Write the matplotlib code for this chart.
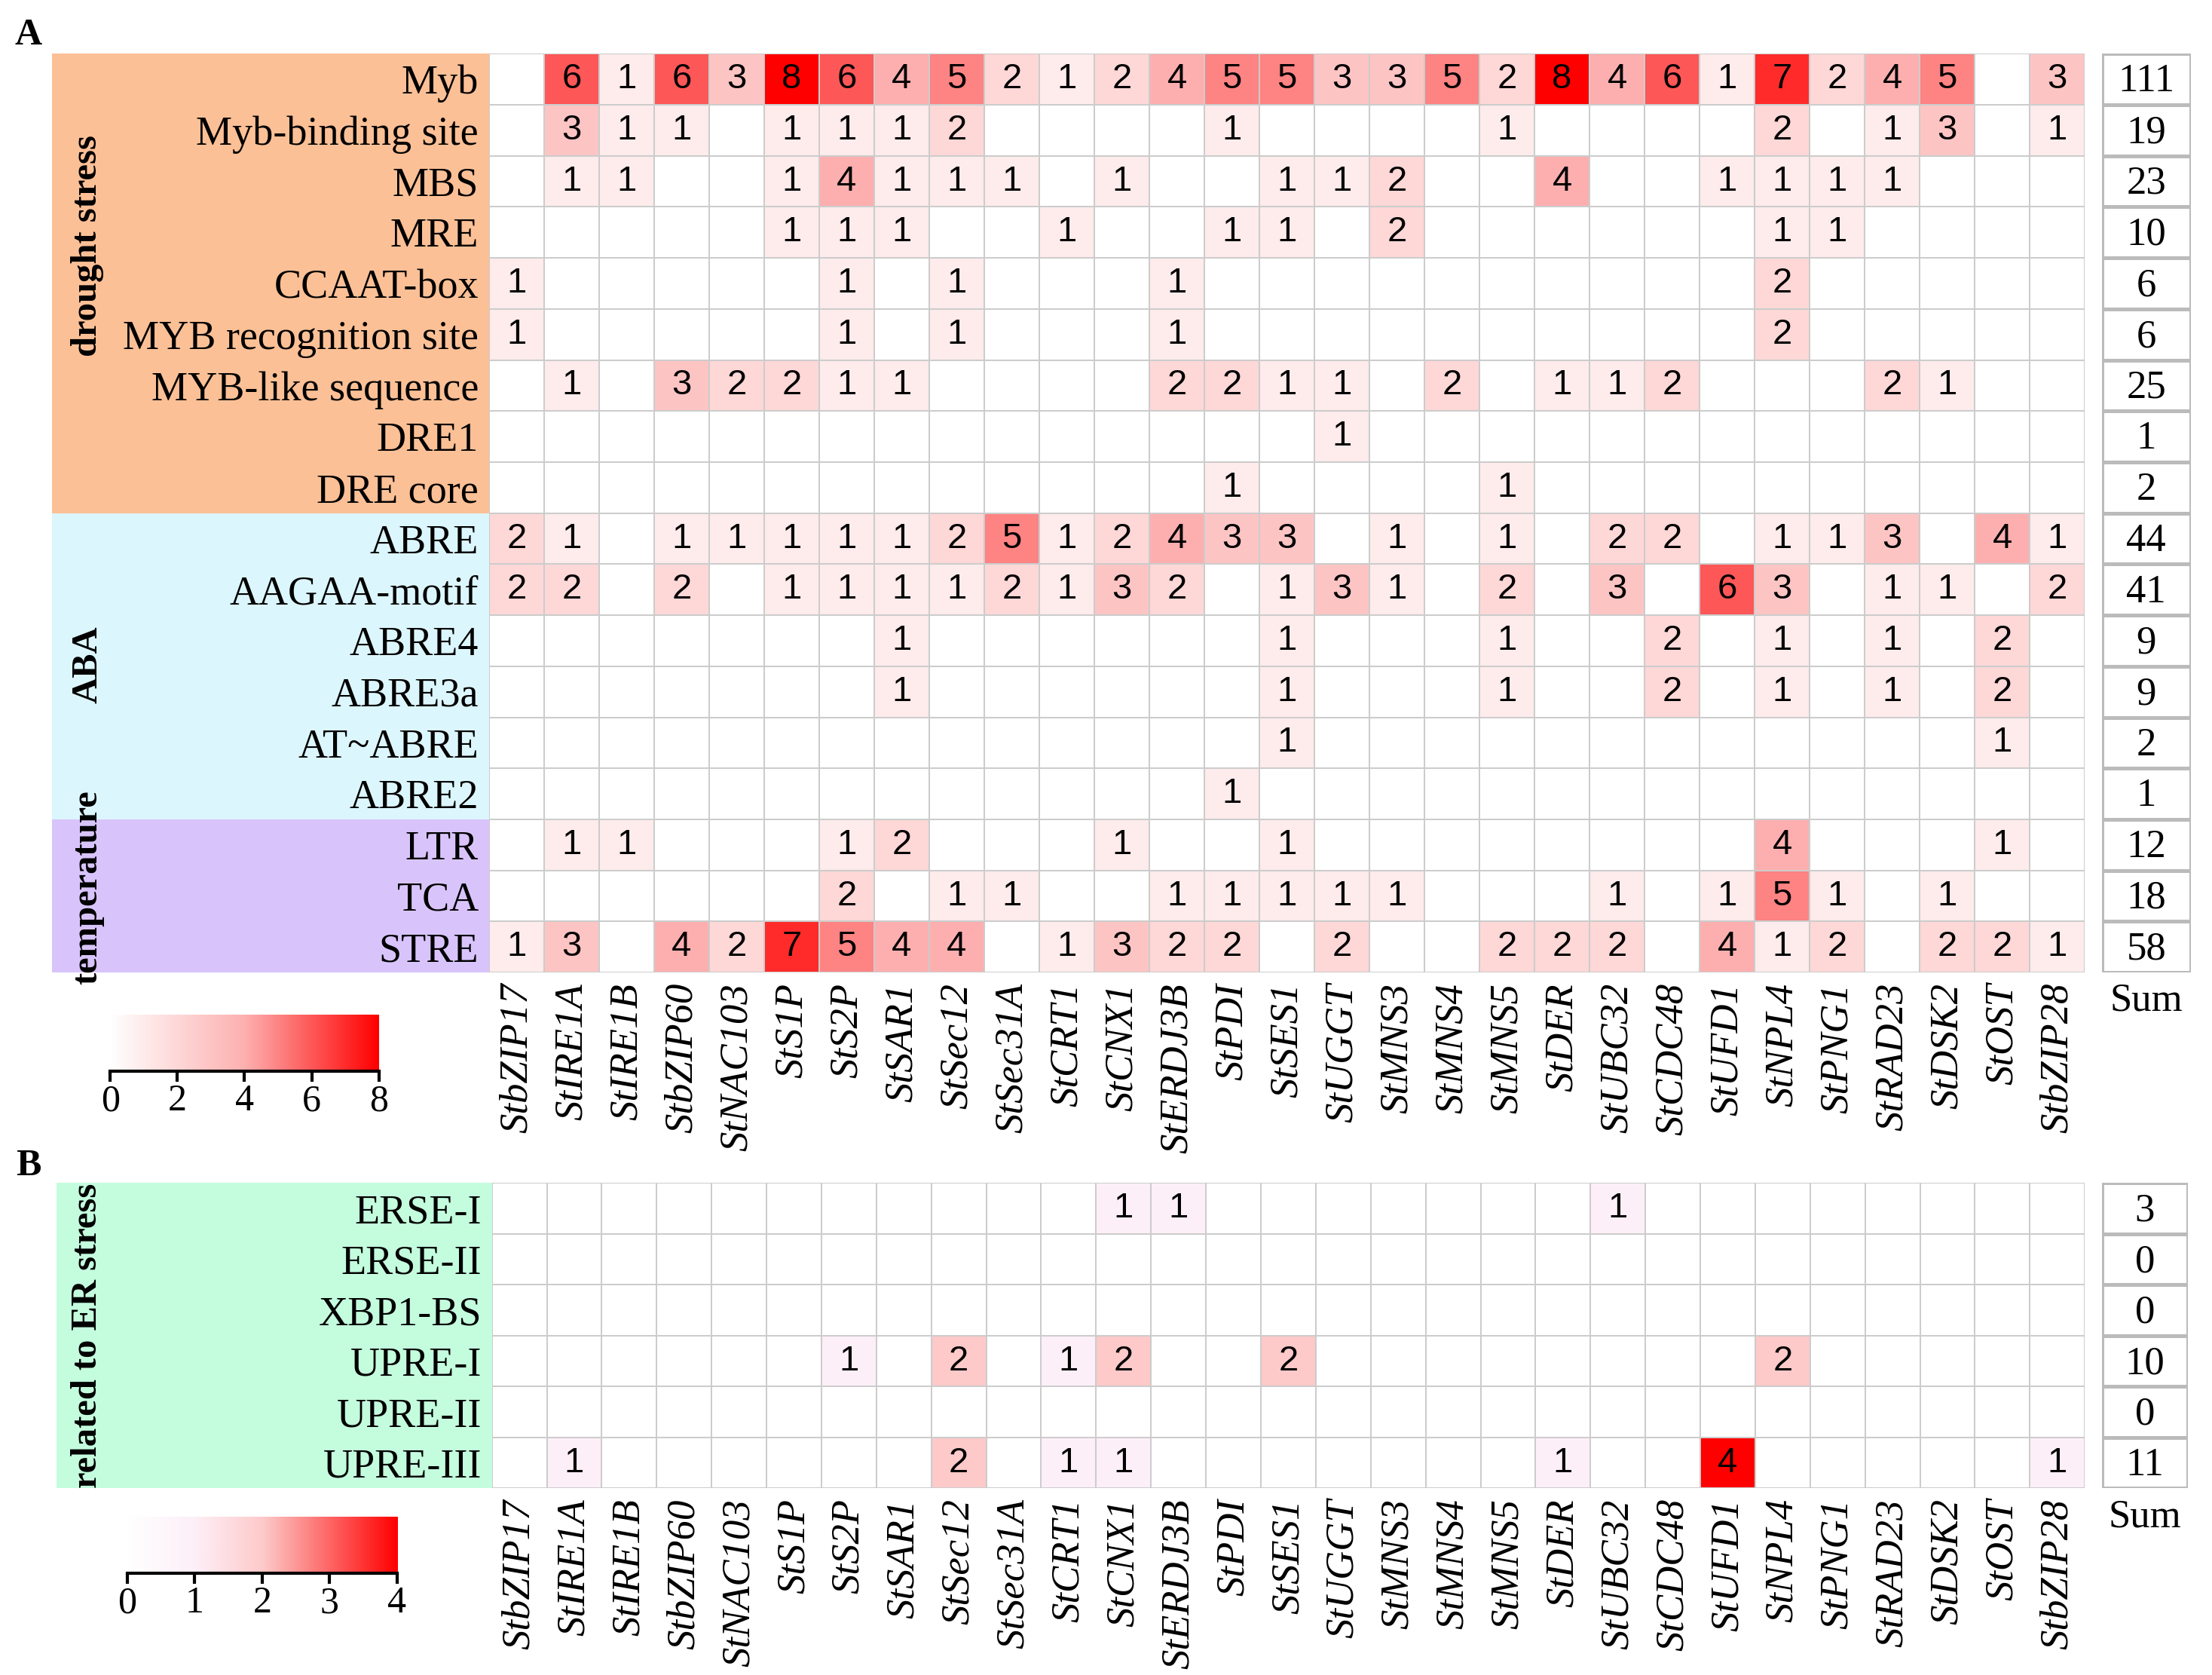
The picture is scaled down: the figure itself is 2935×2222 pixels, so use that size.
import numpy as np
import matplotlib
matplotlib.use("Agg")
import matplotlib.pyplot as plt
from matplotlib.colors import LinearSegmentedColormap
from matplotlib.patches import Rectangle
from matplotlib import transforms

genes = ['StbZIP17', 'StIRE1A', 'StIRE1B', 'StbZIP60', 'StNAC103', 'StS1P', 'StS2P',
         'StSAR1', 'StSec12', 'StSec31A', 'StCRT1', 'StCNX1', 'StERDJ3B', 'StPDI',
         'StSES1', 'StUGGT', 'StMNS3', 'StMNS4', 'StMNS5', 'StDER', 'StUBC32',
         'StCDC48', 'StUFD1', 'StNPL4', 'StPNG1', 'StRAD23', 'StDSK2', 'StOST', 'StbZIP28']

# panel A
rows_a = ['Myb', 'Myb-binding site', 'MBS', 'MRE', 'CCAAT-box', 'MYB recognition site',
          'MYB-like sequence', 'DRE1', 'DRE core', 'ABRE', 'AAGAA-motif', 'ABRE4',
          'ABRE3a', 'AT~ABRE', 'ABRE2', 'LTR', 'TCA', 'STRE']
myb      = [0,6,1,6,3,8,6,4,5,2,1,2,4,5,5,3,3,5,2,8,4,6,1,7,2,4,5,0,3]
myb_bs   = [0,3,1,1,0,1,1,1,2,0,0,0,0,1,0,0,0,0,1,0,0,0,0,2,0,1,3,0,1]
mbs      = [0,1,1,0,0,1,4,1,1,1,0,1,0,0,1,1,2,0,0,4,0,0,1,1,1,1,0,0,0]
mre      = [0,0,0,0,0,1,1,1,0,0,1,0,0,1,1,0,2,0,0,0,0,0,0,1,1,0,0,0,0]
ccaat    = [1,0,0,0,0,0,1,0,1,0,0,0,1,0,0,0,0,0,0,0,0,0,0,2,0,0,0,0,0]
myb_rec  = [1,0,0,0,0,0,1,0,1,0,0,0,1,0,0,0,0,0,0,0,0,0,0,2,0,0,0,0,0]
myb_like = [0,1,0,3,2,2,1,1,0,0,0,0,2,2,1,1,0,2,0,1,1,2,0,0,0,2,1,0,0]
dre1     = [0,0,0,0,0,0,0,0,0,0,0,0,0,0,0,1,0,0,0,0,0,0,0,0,0,0,0,0,0]
dre_core = [0,0,0,0,0,0,0,0,0,0,0,0,0,1,0,0,0,0,1,0,0,0,0,0,0,0,0,0,0]
abre     = [2,1,0,1,1,1,1,1,2,5,1,2,4,3,3,0,1,0,1,0,2,2,0,1,1,3,0,4,1]
aagaa    = [2,2,0,2,0,1,1,1,1,2,1,3,2,0,1,3,1,0,2,0,3,0,6,3,0,1,1,0,2]
abre4    = [0,0,0,0,0,0,0,1,0,0,0,0,0,0,1,0,0,0,1,0,0,2,0,1,0,1,0,2,0]
abre3a   = [0,0,0,0,0,0,0,1,0,0,0,0,0,0,1,0,0,0,1,0,0,2,0,1,0,1,0,2,0]
at_abre  = [0,0,0,0,0,0,0,0,0,0,0,0,0,0,1,0,0,0,0,0,0,0,0,0,0,0,0,1,0]
abre2    = [0,0,0,0,0,0,0,0,0,0,0,0,0,1,0,0,0,0,0,0,0,0,0,0,0,0,0,0,0]
ltr      = [0,1,1,0,0,0,1,2,0,0,0,1,0,0,1,0,0,0,0,0,0,0,0,4,0,0,0,1,0]
tca      = [0,0,0,0,0,0,2,0,1,1,0,0,1,1,1,1,1,0,0,0,1,0,1,5,1,0,1,0,0]
stre     = [1,3,0,4,2,7,5,4,4,0,1,3,2,2,0,2,0,0,2,2,2,0,4,1,2,0,2,2,1]
groups_a = [('drought stress', 0, 9, '#fcc096'), ('ABA', 9, 6, '#dcf6fd'),
            ('temperature', 15, 3, '#d8c4fa')]

# panel B
rows_b = ['ERSE-I', 'ERSE-II', 'XBP1-BS', 'UPRE-I', 'UPRE-II', 'UPRE-III']
erse1   = [0,0,0,0,0,0,0,0,0,0,0,1,1,0,0,0,0,0,0,0,1,0,0,0,0,0,0,0,0]
erse2   = [0]*29
xbp1    = [0]*29
upre1   = [0,0,0,0,0,0,1,0,2,0,1,2,0,0,2,0,0,0,0,0,0,0,0,2,0,0,0,0,0]
upre2   = [0]*29
upre3   = [0,1,0,0,0,0,0,0,2,0,1,1,0,0,0,0,0,0,0,1,0,0,4,0,0,0,0,0,1]
groups_b = [('related to ER stress', 0, 6, '#c4fcde')]

data_a = np.array([myb, myb_bs, mbs, mre, ccaat, myb_rec, myb_like, dre1, dre_core,
                   abre, aagaa, abre4, abre3a, at_abre, abre2, ltr, tca, stre])
data_b = np.array([erse1, erse2, xbp1, upre1, upre2, upre3])

cmap_a = LinearSegmentedColormap.from_list('a', [(0, 'white'), (0.5, '#fdb0b0'), (1, '#ff0000')])
cmap_b = LinearSegmentedColormap.from_list('b', [(0, 'white'), (0.25, '#fdeff7'),
                                                 (0.5, '#fdcaca'), (1, '#ff0000')])

SERIF = 'Liberation Serif'
SANS = 'Liberation Sans'
GRID = '#cccccc'

W, H = 1565.0, 1185.0  # layout measured on a 1565x1185 view


def box(x0, y0, x1, y1):
    return [x0 / W, 1 - y1 / H, (x1 - x0) / W, (y1 - y0) / H]


fig = plt.figure(figsize=(14.675, 11.11), dpi=200)


def heat(rect, sum_rect, data, rows, cmap, vmax, groups, band_x0, cb_rect, cb_ticks):
    ax = fig.add_axes(rect)
    ax.pcolormesh(data, cmap=cmap, vmin=0, vmax=vmax, edgecolors=GRID, linewidth=0.7)
    ax.set_xlim(0, data.shape[1])
    ax.set_ylim(data.shape[0], 0)
    for i in range(data.shape[0]):
        for j in range(data.shape[1]):
            if data[i, j] > 0:
                ax.text(j + 0.5, i + 0.5, str(data[i, j]), ha='center', va='center',
                        fontsize=17, family=SANS)
    ax.set_yticks(np.arange(data.shape[0]) + 0.5)
    ax.set_yticklabels(rows, family=SERIF, fontsize=19.5)
    ax.set_xticks(np.arange(data.shape[1]) + 0.5)
    ax.set_xticklabels(genes, family=SERIF, style='italic', fontsize=19, rotation=90,
                       va='top')
    ax.tick_params(length=0, pad=5)
    for s in ax.spines.values():
        s.set_visible(False)

    # coloured group bands behind the row labels
    tr = transforms.blended_transform_factory(fig.transFigure, ax.transData)
    x1 = rect[0]
    for name, start, n, col in groups:
        ax.add_patch(Rectangle((band_x0, start), x1 - band_x0, n, transform=tr,
                               facecolor=col, edgecolor='none', clip_on=False, zorder=-5))
    ax.set_zorder(2)

    # sum column
    sx = fig.add_axes(sum_rect)
    sums = data.sum(axis=1).reshape(-1, 1)
    sx.pcolormesh(np.zeros_like(sums), cmap=cmap, vmin=0, vmax=vmax,
                  edgecolors='#bbbbbb', linewidth=1.2)
    sx.set_xlim(0, 1)
    sx.set_ylim(data.shape[0], 0)
    for i, v in enumerate(sums[:, 0]):
        sx.text(0.5, i + 0.55, str(v), ha='center', va='center', fontsize=19, family=SERIF)
    sx.set_xticks([0.5])
    sx.set_xticklabels(['Sum'], family=SERIF, fontsize=19, va='top')
    sx.set_yticks([])
    sx.tick_params(length=0, pad=5)
    for s in sx.spines.values():
        s.set_visible(False)

    # colour bar
    cx = fig.add_axes(cb_rect)
    grad = np.linspace(0, vmax, 256).reshape(1, -1)
    cx.imshow(grad, cmap=cmap, vmin=0, vmax=vmax, extent=(0, vmax, 0, 1), aspect='auto')
    cx.set_xlim(0, vmax)
    cx.set_xticks(cb_ticks)
    cx.set_xticklabels([str(t) for t in cb_ticks], family=SERIF, fontsize=18)
    cx.set_yticks([])
    for k in ['top', 'left', 'right']:
        cx.spines[k].set_visible(False)
    cx.spines['bottom'].set_linewidth(1.5)
    cx.tick_params(axis='x', direction='out', length=5, width=1.5, pad=1)
    return ax


ax_a = heat(box(346, 38, 1475, 688), box(1487, 38, 1550, 688), data_a, rows_a, cmap_a, 8,
            groups_a, 37 / W, box(78, 718, 268, 758), [0, 2, 4, 6, 8])
ax_b = heat(box(348, 837, 1475, 1053), box(1487, 837, 1548, 1053), data_b, rows_b, cmap_b, 4,
            groups_b, 40 / W, box(90, 1073, 281, 1113), [0, 1, 2, 3, 4])

# group names, rotated along the bands
for name, yc in [('drought stress', 174), ('ABA', 470), ('temperature', 628),
                 ('related to ER stress', 945)]:
    fig.text(62 / W, 1 - yc / H, name, rotation=90, ha='center', va='center',
             family=SERIF, fontweight='bold', fontsize=17.5)

fig.text(20 / W, 1 - 25 / H, 'A', ha='center', va='center', family=SERIF,
         fontweight='bold', fontsize=18)
fig.text(20 / W, 1 - 825 / H, 'B', ha='center', va='center', family=SERIF,
         fontweight='bold', fontsize=18)

fig.savefig('out.png', dpi=200)
